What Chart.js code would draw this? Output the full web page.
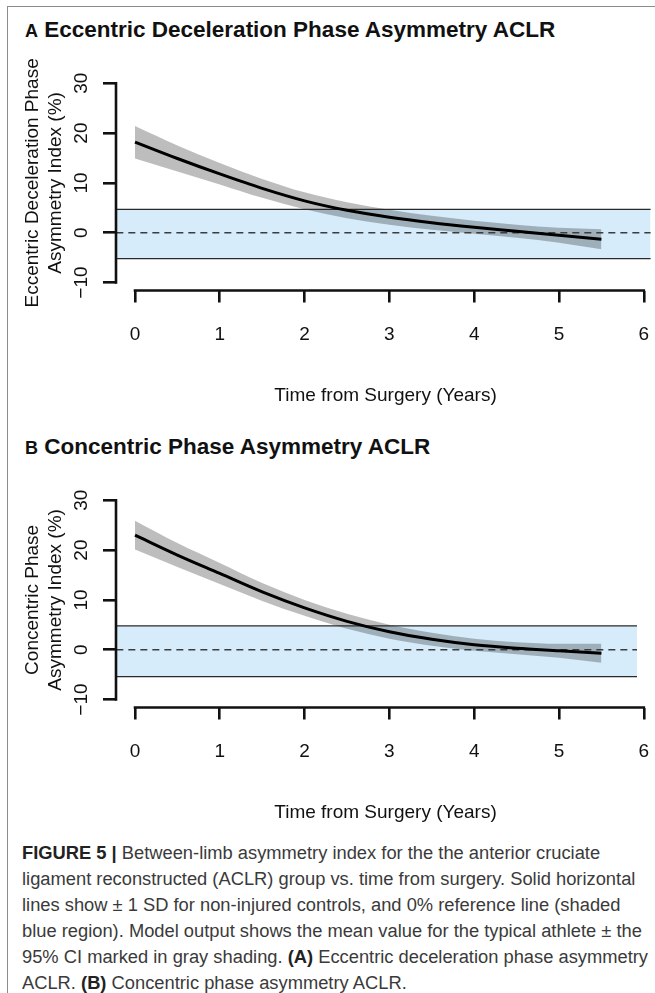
<!DOCTYPE html>
<html>
<head>
<meta charset="utf-8">
<script src="https://cdn.jsdelivr.net/npm/chart.js@4.4.0/dist/chart.umd.min.js"></script>
<style>
  body { margin: 0; width: 655px; height: 993px; overflow: hidden; background: #fff; position: relative;
         font-family: "Liberation Sans", Arial, Helvetica, sans-serif; }
  #frame { position: absolute; left: 7px; top: 6px; width: 700px; height: 1100px;
           border-left: 1.5px solid #8c8c8c; border-top: 1.5px solid #8c8c8c; }
  .title { position: absolute; left: 25px; font-weight: bold; font-size: 22.5px; line-height: 22px; color: #111; white-space: nowrap; }
  .title .lt { font-size: 18px; }
  canvas { position: absolute; left: 0; }
  #caption { position: absolute; left: 22px; top: 840px; font-size: 18px; line-height: 26px; color: #3a3a3a;
             white-space: nowrap; transform-origin: 0 0; }
  #caption b { color: #222; }
</style>
</head>
<body>
<div id="frame"></div>
<div class="title" style="top:19px"><span class="lt">A</span> Eccentric Deceleration Phase Asymmetry ACLR</div>
<canvas id="chartA" width="655" height="370" style="top:50px"></canvas>
<div class="title" style="top:436px"><span class="lt">B</span> Concentric Phase Asymmetry ACLR</div>
<canvas id="chartB" width="655" height="370" style="top:467px"></canvas>
<div id="caption">
  <div><b>FIGURE 5 |</b> Between-limb asymmetry index for the the anterior cruciate</div>
  <div>ligament reconstructed (ACLR) group vs. time from surgery. Solid horizontal</div>
  <div>lines show ± 1 SD for non-injured controls, and 0% reference line (shaded</div>
  <div>blue region). Model output shows the mean value for the typical athlete ± the</div>
  <div>95% CI marked in gray shading. <b>(A)</b> Eccentric deceleration phase asymmetry</div>
  <div>ACLR. <b>(B)</b> Concentric phase asymmetry ACLR.</div>
</div>
<script>
// time axis (years from surgery) and axis ticks
const years = [0, 0.5, 1, 1.5, 2, 2.5, 3, 3.5, 4, 4.5, 5, 5.5];
const xTicks = [0, 1, 2, 3, 4, 5, 6];
const yTicks = [-10, 0, 10, 20, 30];

// A: eccentric deceleration phase asymmetry (%)
const meanA   = [18.2, 14.9, 11.8, 8.9, 6.4, 4.5, 3.1, 2.0, 1.1, 0.3, -0.5, -1.3];
const ciLowA  = [14.9, 12.3, 9.7, 7.0, 4.7, 2.9, 1.6, 0.6, -0.2, -1.0, -2.0, -3.3];
const ciHighA = [21.4, 17.5, 14.0, 10.8, 8.1, 6.1, 4.6, 3.4, 2.4, 1.6, 1.0, 0.7];
const sdA = [-5.2, 4.7];          // controls -1 SD / +1 SD
const bandXA = [-0.22, 6.08];

// B: concentric phase asymmetry (%)
const meanB   = [23.0, 19.0, 15.3, 11.6, 8.4, 5.7, 3.6, 2.1, 1.0, 0.3, -0.2, -0.7];
const ciLowB  = [20.1, 16.6, 13.2, 9.8, 6.8, 4.2, 2.2, 0.8, -0.2, -0.9, -1.6, -2.6];
const ciHighB = [25.9, 21.4, 17.4, 13.4, 10.0, 7.2, 5.0, 3.4, 2.2, 1.5, 1.2, 1.2];
const sdB = [-5.4, 4.8];
const bandXB = [-0.22, 5.92];

const FONT = '"Liberation Sans", Arial, Helvetica, sans-serif';
const INK = '#111';

function pts(xs, ys) {
    return xs.map((x, i) => ({ x: x, y: ys[i] }));
}

// R style axes: lines only span first..last tick, y labels turned with the axis
const rAxes = {
    id: 'rAxes',
    afterDraw(chart) {
        const { ctx, chartArea } = chart;
        const x = chart.scales.x, y = chart.scales.y;
        ctx.save();
        ctx.strokeStyle = INK;
        ctx.lineWidth = 2.6;
        ctx.lineCap = 'square';
        ctx.beginPath();
        ctx.moveTo(chartArea.left, y.getPixelForValue(yTicks[yTicks.length - 1]));
        ctx.lineTo(chartArea.left, y.getPixelForValue(yTicks[0]));
        ctx.moveTo(x.getPixelForValue(xTicks[0]), chartArea.bottom);
        ctx.lineTo(x.getPixelForValue(xTicks[xTicks.length - 1]), chartArea.bottom);
        ctx.stroke();

        ctx.fillStyle = INK;
        ctx.font = '19px ' + FONT;
        ctx.textAlign = 'center';
        ctx.textBaseline = 'middle';
        y.ticks.forEach(t => {
            ctx.save();
            ctx.translate(82, y.getPixelForValue(t.value));
            ctx.rotate(-Math.PI / 2);
            ctx.fillText(t.value < 0 ? '\u2212' + Math.abs(t.value) : String(t.value), 0, 0);
            ctx.restore();
        });
        ctx.restore();
    }
};

function makePanel(id, mean, ciLow, ciHigh, sd, bandX, yTitle) {
    const ctx = document.getElementById(id).getContext('2d');
    return new Chart(ctx, {
        type: 'line',
        data: {
            datasets: [
                { data: pts(years, mean), borderColor: '#000', borderWidth: 3, cubicInterpolationMode: 'monotone', order: 0 },
                { data: pts(bandX, [0, 0]), borderColor: '#3c3c3c', borderWidth: 1.5, borderDash: [7, 5], order: 1 },
                { data: pts(years, ciHigh), borderWidth: 0, borderColor: 'rgba(0,0,0,0)', backgroundColor: 'rgba(0,0,0,0.26)',
                  fill: '+1', cubicInterpolationMode: 'monotone', order: 3 },
                { data: pts(years, ciLow), borderWidth: 0, borderColor: 'rgba(0,0,0,0)', cubicInterpolationMode: 'monotone', order: 4 },
                { data: pts(bandX, [sd[1], sd[1]]), borderColor: '#2a2a2a', borderWidth: 1.2,
                  backgroundColor: '#d6ecfb', fill: '+1', order: 5 },
                { data: pts(bandX, [sd[0], sd[0]]), borderColor: '#2a2a2a', borderWidth: 1.2, order: 6 }
            ]
        },
        options: {
            responsive: false,
            animation: false,
            events: [],
            layout: { padding: { top: 25.3, left: 0, right: 0, bottom: 0 } },
            elements: { point: { radius: 0 } },
            plugins: {
                legend: { display: false },
                tooltip: { enabled: false },
                filler: { drawTime: 'beforeDatasetsDraw' }
            },
            scales: {
                x: {
                    type: 'linear',
                    min: -0.224,
                    max: 6.132,
                    // fixed box height; no extra side padding for the end labels
                    afterFit: s => { s.height = 129.5; s.paddingLeft = 0; s.paddingRight = 0; },
                    afterBuildTicks: s => { s.ticks = xTicks.map(v => ({ value: v })); },
                    grid: { drawOnChartArea: false, drawTicks: true, tickLength: 12, color: INK, lineWidth: 2.6 },
                    border: { display: false },
                    ticks: { color: INK, font: { family: FONT, size: 19 }, padding: 21, maxRotation: 0 },
                    title: { display: true, text: 'Time from Surgery (Years)', color: INK,
                             font: { family: FONT, size: 19 }, padding: { top: 0, bottom: 12.6 } }
                },
                y: {
                    type: 'linear',
                    min: -11.6,
                    max: 31.6,
                    afterFit: s => { s.width = 116; s.paddingTop = 0; s.paddingBottom = 0; },
                    afterBuildTicks: s => { s.ticks = yTicks.map(v => ({ value: v })); },
                    grid: { drawOnChartArea: false, drawTicks: true, tickLength: 13, color: INK, lineWidth: 2.6 },
                    border: { display: false },
                    ticks: { display: false },
                    title: { display: true, text: yTitle, color: INK,
                             font: { family: FONT, size: 19 }, padding: { top: 21.6, bottom: 0 } }
                }
            }
        },
        plugins: [rAxes]
    });
}

makePanel('chartA', meanA, ciLowA, ciHighA, sdA, bandXA, ['Eccentric Deceleration Phase', 'Asymmetry Index (%)']);
makePanel('chartB', meanB, ciLowB, ciHighB, sdB, bandXB, ['Concentric Phase', 'Asymmetry Index (%)']);

// caption set in a narrow face: squeeze the block to the column width
const cap = document.getElementById('caption');
let widest = 0;
cap.querySelectorAll('div').forEach(d => {
    const r = document.createRange();
    r.selectNodeContents(d);
    widest = Math.max(widest, r.getBoundingClientRect().width);
});
cap.style.transform = 'scaleX(' + (626 / widest) + ')';
</script>
</body>
</html>
